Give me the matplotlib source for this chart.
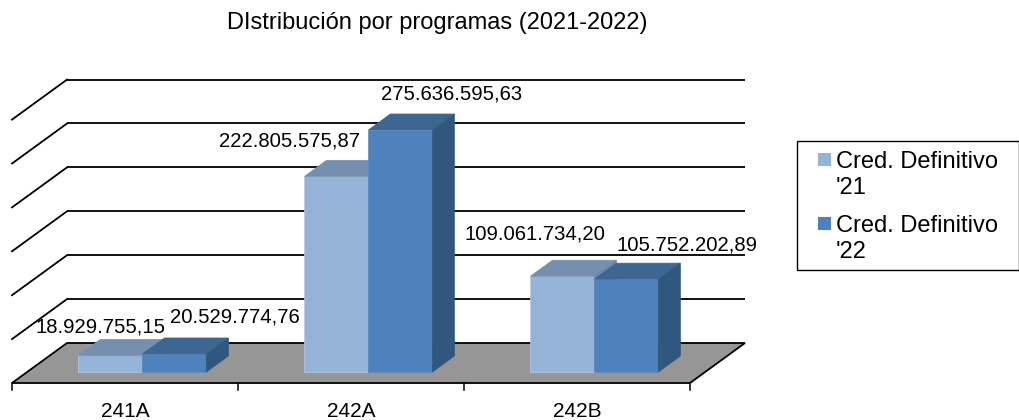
import matplotlib
matplotlib.use("Agg")
import matplotlib.pyplot as plt
from matplotlib.patches import Polygon, Rectangle

plt.rcParams['font.family'] = ['Liberation Sans', 'DejaVu Sans']

# ---------------- data ----------------
categories = ['241A', '242A', '242B']
series_names = ["Cred. Definitivo '21", "Cred. Definitivo '22"]
cred_21 = [18929755.15, 222805575.87, 109061734.20]
cred_22 = [20529774.76, 275636595.63, 105752202.89]
grid_values = [50, 100, 150, 200, 250, 300]   # millions

# ---------------- style ----------------
front_cols = ['#95B3D7', '#4F81BD']
top_cols = ['#7590AE', '#3D6792']
side_cols = ['#6E87A4', '#30577E']
floor_col = '#969696'

# pixel offsets of the value labels (Excel places them by hand-ish)
label_offsets = [[(-10, 23), (-47, 30), (-27, 37)],
                 [(61, 31), (51, 30), (61, 29)]]

# 3d look: depth shift in data units (u along categories, v in millions)
DU = 0.2434
DV = 45.56
BAR_D0, BAR_D1 = 0.275, 0.675
bar_w = 0.283


def proj(u, d, v):
    return (u + DU * d, v + DV * d)


fig = plt.figure(figsize=(10.2, 4.2), dpi=100)
ax = fig.add_axes([0, 0, 1, 1])
ax.set_xlim(-0.0531, 4.4602)
ax.set_ylim(-42.14, 436.22)
ax.axis('off')

# back wall gridlines + left wall diagonals
for gv in grid_values:
    x0, y0 = proj(0, 1, gv)
    x1, y1 = proj(len(categories), 1, gv)
    ax.plot([x0, x1], [y0, y1], color='black', lw=1.3, solid_capstyle='butt', zorder=1)
    xa, ya = proj(0, 0, gv)
    ax.plot([xa, x0], [ya, y0], color='black', lw=1.3, zorder=1)

# floor
n = len(categories)
floor = Polygon([proj(0, 0, 0), proj(n, 0, 0), proj(n, 1, 0), proj(0, 1, 0)],
                closed=True, facecolor=floor_col, edgecolor='black', lw=1.3, zorder=2)
ax.add_patch(floor)

# ticks under the floor front edge
for i in range(n + 1):
    ax.plot([i, i], [0, -8], color='black', lw=1.1, zorder=2)

# bars
z = 3
for i in range(n):
    for s, vals in enumerate([cred_21, cred_22]):
        v = vals[i] / 1e6
        left = i + 0.51 - bar_w + s * bar_w
        fx, fy = proj(left, BAR_D0, 0)
        ax.bar(fx, v, width=bar_w, bottom=fy, align='edge', color=front_cols[s],
               edgecolor='#B8CCE4' if s == 0 else '#5F8CC4', lw=0.5, zorder=z)
        dx = DU * (BAR_D1 - BAR_D0)
        dv = DV * (BAR_D1 - BAR_D0)
        top = fy + v
        right = fx + bar_w
        ax.add_patch(Polygon([(fx, top), (right, top), (right + dx, top + dv), (fx + dx, top + dv)],
                             closed=True, facecolor=top_cols[s], edgecolor=top_cols[s], lw=0.5, zorder=z))
        ax.add_patch(Polygon([(right, fy), (right, top), (right + dx, top + dv), (right + dx, fy + dv)],
                             closed=True, facecolor=side_cols[s], edgecolor=side_cols[s], lw=0.5, zorder=z))
        z += 1
        txt = f"{vals[i]:,.2f}".replace(',', 'X').replace('.', ',').replace('X', '.')
        ax.annotate(txt, xy=(fx + bar_w / 2, top), xytext=label_offsets[s][i],
                    textcoords='offset pixels', ha='center', va='baseline',
                    fontsize=14.6, color='black', zorder=20)

# category labels
for i, c in enumerate(categories):
    ax.annotate(c, xy=(i + 0.5, 0), xytext=(0, -34), textcoords='offset pixels',
                ha='center', va='baseline', fontsize=15, color='black')

# title
fig.text(437 / 1020, 1 - 29 / 420, 'DIstribución por programas (2021-2022)',
         ha='center', va='baseline', fontsize=17, color='black')

# legend (drawn by hand to mimic Excel wrapping)
W, H = 1020.0, 420.0
fig.add_artist(Rectangle((797 / W, 1 - 270 / H), (1019 - 797) / W, (270 - 141) / H,
                         transform=fig.transFigure, facecolor='white', edgecolor='black', lw=1.0))
leg_tops = [153, 217]
for s, name in enumerate(series_names):
    y0 = leg_tops[s]
    fig.add_artist(Rectangle((818 / W, 1 - (y0 + 13) / H), 13 / W, 13 / H,
                             transform=fig.transFigure, facecolor=front_cols[s], edgecolor='none'))
    first, second = name.rsplit(' ', 1)
    fig.text(836 / W, 1 - (y0 + 15) / H, first, ha='left', va='baseline', fontsize=17)
    fig.text(836 / W, 1 - (y0 + 41) / H, second, ha='left', va='baseline', fontsize=17)

fig.savefig('out.png', dpi=100)
